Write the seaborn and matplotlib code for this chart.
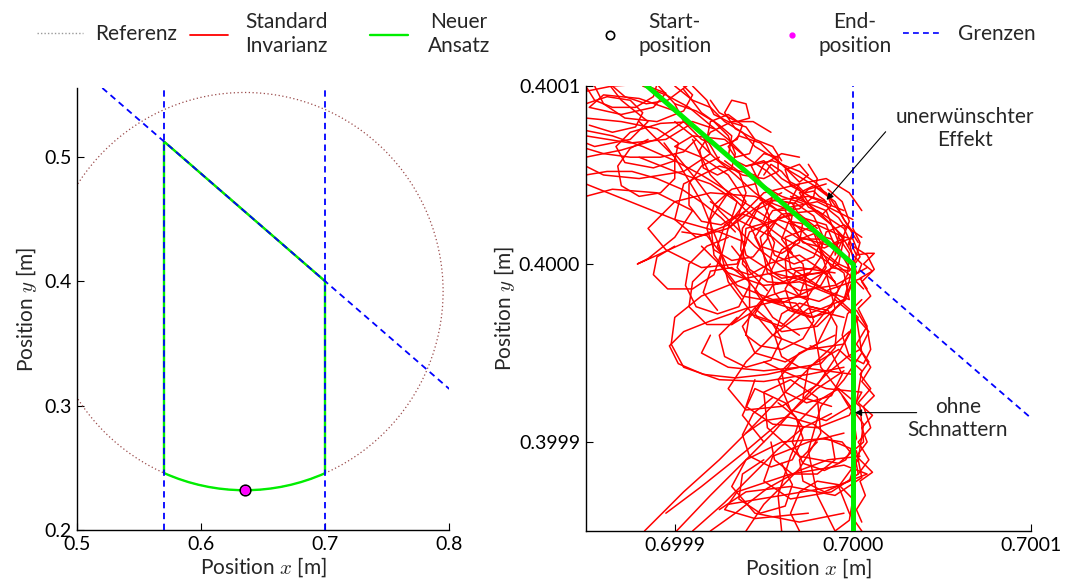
import numpy as np
import pandas as pd
import matplotlib
matplotlib.use("Agg")
import matplotlib.pyplot as plt
import seaborn as sns
from matplotlib.patches import Circle, Arc
from matplotlib.lines import Line2D

# ---------------- data ----------------
# reference trajectory (circle)
ref_center = (0.635, 0.392)
ref_radius = 0.16
# boundaries ("Grenzen")
bound_x = [0.57, 0.70]
bound_diag_p1 = (0.57, 0.5125)
bound_diag_p2 = (0.70, 0.40)
# "Neuer Ansatz" path: straight part, then arc on the reference circle
path_x = [0.57, 0.57, 0.70, 0.70]
path_y = [0.2458, 0.5125, 0.40, 0.2458]
path_arc_deg = (246.0, 294.0)
start_pos = (0.635, 0.232)
end_pos = (0.635, 0.232)

# "Standard Invarianz" chatter near corner (0.70, 0.40), offsets in micrometres
corner = (0.70, 0.40)
std_strokes_um = [
    [(-150,97),(-135,100),(-118,101),(-105,96),(-112,88),(-130,84),(-148,88),(-140,95),(-120,93),(-100,86),(-92,78),(-105,70),(-125,68),(-150,72)],
    [(-140,105),(-130,92),(-115,80),(-125,70),(-145,66),(-150,68)],
    [(-150,60),(-130,64),(-110,70),(-95,80),(-85,74),(-80,62),(-95,52),(-120,48),(-140,50),(-150,55)],
    [(-150,38),(-135,42),(-110,40),(-90,30),(-100,15),(-115,3),(-121,0),(-112,4),(-90,14),(-70,22),(-60,35),(-70,50),(-85,60),(-100,66),(-90,72),(-72,70),(-60,60)],
    [(-118,100),(-105,95),(-92,88),(-80,78),(-70,70),(-60,60),(-48,52),(-38,42),(-28,36),(-18,28),(-10,20),(-4,12),(0,5),(5,0),(3,-5),(-8,0),(-20,10),(-30,20),(-42,30),(-55,40),(-66,50),(-78,60),(-90,72),(-100,80)],
    [(-60,55),(-45,58),(-30,52),(-20,45),(-14,38),(-12,33),(-17,28),(-25,32),(-30,40),(-22,44),(-10,35),(-5,25),(0,18),(-3,10)],
    [(-100,100),(-90,92),(-80,88),(-72,80),(-62,74),(-55,66),(-45,60),(-35,52),(-25,46),(-15,40),(-8,30),(-2,20),(3,12)],
    [(-95,98),(-85,85),(-75,78),(-68,72),(-70,60),(-60,55),(-50,58),(-40,48),(-30,42),(-22,30),(-12,22),(-5,15),(-10,5)],
    [(-150,45),(-125,35),(-100,25),(-75,18),(-60,12),(-65,0),(-85,-2),(-105,8),(-115,20),(-100,35),(-80,40),(-55,38),(-35,30)],
    [(-120,60),(-100,52),(-80,45),(-65,35),(-70,20),(-88,15),(-100,25),(-95,45),(-75,55),(-55,50),(-45,38),(-50,25)],
    [(-90,70),(-80,50),(-60,30),(-40,15),(-20,5),(-5,-5),(-2,-20),(-15,-15),(-35,-5),(-55,10),(-75,30),(-90,50),(-100,62)],
    [(-120,80),(-100,60),(-85,35),(-75,10),(-70,-10),(-55,-30),(-40,-35),(-25,-20),(-28,0),(-45,15),(-65,25),(-80,35)],
    [(-5,30),(-25,38),(-50,35),(-70,20),(-75,0),(-62,-18),(-40,-22),(-18,-12),(-8,5),(-15,22),(-35,28),(-58,18),(-65,-2),(-50,-20),(-25,-28),(-5,-20),(2,-5),(-2,12)],
    [(0,25),(-20,35),(-45,30),(-55,15),(-45,-5),(-25,-10),(-8,0),(-5,15),(-20,22),(-38,15),(-35,-2),(-15,-15),(5,-8)],
    [(-30,45),(-50,40),(-65,25),(-60,5),(-40,-8),(-18,-5),(-8,12),(-15,30),(-35,38)],
    [(8,-2),(-10,-12),(-30,-15),(-48,-5),(-52,15),(-40,28),(-20,30),(-5,20),(2,5),(-5,-20),(-20,-35),(-40,-38),(-55,-25)],
    [(-70,40),(-80,25),(-78,5),(-65,-12),(-45,-20),(-25,-18),(-15,-2),(-22,18),(-42,25),(-60,20),(-62,0),(-48,-15)],
    [(5,30),(-2,40),(-15,48),(-30,45),(-38,30),(-30,15),(-12,10),(0,15)],
    [(-85,10),(-70,-5),(-50,-12),(-30,-10),(-10,-18),(3,-30),(-5,-45),(-25,-48),(-45,-40),(-55,-28),(-45,-12),(-25,-5)],
    [(-10,-5),(-30,-2),(-60,-8),(-85,-18),(-100,-30),(-102,-45),(-95,-58),(-75,-65),(-50,-66),(-25,-62),(-5,-58)],
    [(-30,-40),(-45,-30),(-55,-15),(-48,0),(-30,5),(-15,-5),(-10,-25),(-20,-45),(-38,-55),(-55,-50),(-62,-35),(-50,-20),(-32,-22),(-22,-35)],
    [(-5,-30),(-25,-25),(-45,-40),(-60,-55),(-70,-70),(-60,-82),(-40,-80),(-20,-68),(-8,-50),(0,-35)],
    [(0,10),(8,5),(12,-3),(5,-10),(10,-18),(3,-25),(8,-35),(2,-45),(9,-55),(4,-62),(10,-70),(3,-78),(11,-85),(5,-92),(8,-100),(2,-108),(11,-117),(4,-122),(7,-130),(2,-138),(5,-145)],
    [(-117,-150),(-95,-128),(-75,-110),(-55,-90),(-38,-72),(-22,-56),(-10,-45),(-2,-38)],
    [(-99,-150),(-80,-130),(-62,-112),(-45,-95),(-30,-78),(-15,-62),(-3,-52),(4,-48)],
    [(-105,-140),(-85,-125),(-60,-105),(-40,-88),(-20,-70),(-5,-60)],
    [(-90,-150),(-72,-134),(-56,-118),(-42,-104),(-28,-92),(-12,-84)],
    [(-80,-150),(-66,-140),(-48,-126),(-30,-116),(-14,-110),(4,-108)],
    [(-75,-138),(-60,-128),(-35,-125),(-10,-130),(5,-120),(2,-105),(-15,-98),(-40,-100),(-60,-110),(-68,-125),(-55,-140),(-30,-145),(-5,-140)],
    [(-70,-135),(-40,-130),(-10,-125),(8,-118),(-5,-113),(-35,-118),(-65,-128),(-72,-138),(-55,-143),(-25,-140)],
    [(-60,-150),(-50,-135),(-30,-115),(-18,-95),(-20,-75),(-35,-65),(-50,-72),(-48,-92),(-30,-108),(-8,-112),(6,-100),(4,-80),(-8,-70)],
    [(-10,-150),(-20,-130),(-25,-105),(-18,-80),(-5,-65),(5,-50),(2,-30),(-10,-20),(-22,-35),(-18,-58),(-5,-75),(6,-90),(3,-110),(-8,-125),(-2,-140),(5,-150)],
    [(-40,-150),(-42,-130),(-35,-108),(-28,-92),(-38,-78),(-55,-70),(-62,-85),(-50,-100)],
    [(-10,-40),(-30,-50),(-42,-65),(-35,-82),(-15,-88),(2,-78),(5,-60),(-8,-48),(-25,-58),(-28,-75),(-12,-80)],
    [(-50,-55),(-35,-62),(-15,-70),(5,-72),(-2,-85),(-20,-92),(-45,-90),(-60,-80),(-55,-65)],
    [(-5,-95),(-25,-100),(-45,-108),(-50,-122),(-35,-132),(-12,-128),(3,-118),(0,-102)],
    [(-150,90),(-138,94),(-125,92),(-118,85),(-122,77),(-135,74),(-148,78)],
    [(-150,82),(-130,80),(-110,76),(-98,68),(-100,58),(-112,54),(-128,57),(-133,66),(-125,74),(-108,79),(-90,80),(-78,76)],
    [(-145,100),(-140,90),(-128,82),(-110,80),(-95,86),(-90,95),(-96,101)],
    [(-150,65),(-140,62),(-125,60),(-108,60),(-95,63),(-88,70)],
    [(-110,101),(-100,90),(-95,80),(-85,70),(-75,66),(-65,70),(-62,78),(-70,84),(-80,80),(-82,70),(-75,58),(-62,50),(-50,48),(-42,52),(-42,60),(-50,62),(-57,55),(-52,45),(-40,38),(-28,34)],
    [(-90,100),(-82,92),(-78,84),(-70,80),(-60,77),(-55,70),(-58,62),(-66,60),(-70,66),(-64,72),(-52,68),(-44,60),(-36,52),(-30,46),(-25,50),(-30,56),(-38,53),(-35,44),(-24,38),(-15,35)],
    [(-80,92),(-75,85),(-65,80),(-58,82),(-60,90),(-68,92),(-72,85),(-66,76),(-55,70),(-45,66),(-40,58)],
    [(-20,20),(-30,28),(-42,26),(-48,16),(-44,5),(-33,0),(-22,4),(-18,12),(-24,22),(-36,24),(-40,14),(-34,6)],
    [(-60,30),(-72,22),(-76,10),(-70,-2),(-58,-6),(-47,0),(-44,12),(-50,24),(-62,28),(-70,20)],
    [(-10,-10),(-20,-2),(-32,-4),(-38,-14),(-34,-26),(-22,-30),(-12,-24),(-8,-14),(-14,-4),(-26,-6),(-30,-18)],
    [(-80,0),(-90,-10),(-92,-24),(-82,-34),(-68,-34),(-58,-24),(-58,-10),(-68,-2),(-80,-4),(-84,-16),(-76,-26)],
    [(5,15),(-5,22),(-15,18),(-18,8),(-12,-2),(-2,-4),(4,4),(0,14),(-8,16),(-10,6)],
    [(-40,40),(-52,34),(-58,22),(-52,10),(-40,6),(-30,12),(-28,24),(-34,34),(-46,36)],
    [(-100,10),(-110,4),(-112,-6),(-104,-14),(-90,-14),(-78,-6),(-74,6),(-82,16),(-96,18)],
    [(-65,-30),(-75,-40),(-72,-52),(-60,-58),(-46,-54),(-40,-42),(-46,-32),(-58,-28),(-68,-34)],
    [(-30,-50),(-40,-60),(-38,-72),(-26,-78),(-12,-74),(-6,-62),(-12,-50),(-24,-46)],
    [(-20,-100),(-30,-110),(-28,-122),(-16,-128),(-2,-122),(2,-110),(-6,-100),(-18,-98)],
    [(-50,-110),(-62,-118),(-64,-132),(-52,-140),(-38,-136),(-34,-124),(-40,-112)],
    [(-80,-40),(-85,-50),(-70,-58),(-50,-60),(-30,-58),(-15,-60),(0,-62)],
    [(-45,35),(-55,30),(-62,20),(-63,8),(-58,-3),(-48,-10),(-36,-11),(-25,-6),(-18,4),(-17,16),(-22,27),(-32,34),(-44,36)],
    [(-5,5),(-12,14),(-22,17),(-32,13),(-38,3),(-37,-9),(-30,-18),(-19,-21),(-9,-16),(-3,-6),(-2,6),(-8,15)],
    [(-20,-25),(-30,-22),(-40,-28),(-44,-40),(-40,-52),(-30,-58),(-18,-56),(-10,-47),(-9,-35),(-14,-26),(-24,-24)],
    [(0,-10),(-4,-20),(-12,-27),(-24,-30),(-36,-26),(-44,-16),(-46,-4),(-40,8),(-30,14),(-18,14),(-8,8),(-2,-2)],
    [(-55,45),(-68,42),(-78,33),(-82,20),(-78,8),(-68,2),(-56,4),(-48,14),(-47,27),(-52,38)],
    [(-30,60),(-40,62),(-50,56),(-55,46),(-52,36),(-42,30),(-30,31),(-22,38),(-20,48),(-25,56)],
    [(-15,45),(-25,42),(-33,34),(-35,22),(-28,12),(-16,9),(-6,14),(-2,24),(-6,35),(-14,42)],
    [(5,-20),(-3,-28),(-6,-40),(-2,-52),(6,-56),(10,-48),(8,-36),(2,-26)],
    [(-60,-40),(-52,-46),(-40,-48),(-28,-42),(-22,-32),(-26,-20),(-38,-15),(-50,-19),(-58,-28),(-60,-40)],
    [(-70,15),(-82,10),(-92,0),(-94,-12),(-88,-24),(-76,-28),(-64,-24),(-58,-12),(-60,0),(-68,10)],
    [(-8,-70),(-18,-76),(-30,-88),(-34,-100),(-28,-112),(-16,-116),(-4,-110),(2,-98),(0,-84),(-6,-74)],
    [(-45,-75),(-56,-84),(-62,-96),(-58,-108),(-46,-114),(-34,-110),(-28,-98),(-32,-86),(-42,-78)],
    [(-75,60),(-85,55),(-92,45),(-92,33),(-85,24),(-74,22),(-64,28),(-60,40),(-64,52),(-72,58)],
    [(-115,70),(-125,65),(-132,55),(-130,44),(-120,38),(-108,40),(-100,48),(-100,60),(-106,68)],
    [(-150,100),(-145,92),(-135,88),(-122,88),(-112,94),(-110,101)],
    [(-135,100),(-128,94),(-116,90),(-104,92),(-96,98),(-92,101)],
    [(-150,75),(-135,72),(-118,66),(-100,58),(-85,50),(-72,42),(-60,34),(-48,26),(-36,18),(-24,10),(-12,2),(-2,-6),(6,-14)],
    [(-150,50),(-138,52),(-124,52),(-110,48),(-96,42),(-84,34),(-74,26),(-66,18)],
    [(-100,90),(-88,86),(-78,80),(-70,72),(-66,62),(-68,54),(-76,50),(-84,54),(-86,64),(-80,74),(-68,80),(-56,80),(-46,74)],
    [(2,-30),(9,-38),(4,-48),(10,-58),(5,-66),(12,-74),(6,-80),(10,-92),(3,-100),(9,-110),(3,-118)],
    [(-30,-150),(-35,-140),(-30,-128),(-20,-122),(-8,-124),(0,-132),(-2,-144),(-10,-150)],
    [(-60,-95),(-50,-88),(-36,-86),(-22,-90),(-12,-98),(-10,-110),(-20,-118),(-34,-118),(-44,-110),(-46,-100)],
    [(-40,-20),(-60,-25),(-80,-32),(-95,-38),(-103,-46),(-98,-56),(-84,-62),(-66,-64),(-48,-62),(-30,-58)],
    [(-50,50),(-46,56),(-40,52),(-35,46),(-31,44),(-27,40),(-22,41),(-19,38),(-16,36),(-13,30),(-8,26),(-4,20)],
    [(0,20),(4,12),(2,5),(8,6),(12,6),(6,0),(11,-4),(4,-8),(8,-14)],
]

# legend labels
legend_labels = ["Referenz", "Standard\nInvarianz", "Neuer\nAnsatz",
                 "Start-\nposition", "End-\nposition", "Grenzen"]

# ---------------- style ----------------
sns.set_theme(style="ticks")
plt.rcParams["font.family"] = ["Lato", "DejaVu Sans"]
plt.rcParams["mathtext.fontset"] = "cm"
FS = 15
FS_TICK = 14

RED = "#ff0000"
GREEN = "#00ee00"
BLUE = "#0000ff"
REFC = "#9a4a4a"
DASH = (0, (3.5, 2.5))

W, H = 1065, 582
fig = plt.figure(figsize=(W / 100, H / 100), dpi=100)
ax1 = fig.add_axes([77.3 / W, 1 - 530 / H, 372 / W, 442 / H])
ax2 = fig.add_axes([585.7 / W, 1 - 531 / H, 445.3 / W, 445 / H])

LIM1 = ((0.5, 0.8), (0.2, 0.5556))
LIM2 = ((0.69985, 0.7001), (0.39985, 0.4001))

rows = []
for i, s in enumerate(std_strokes_um):
    for (dx, dy) in s:
        rows.append((i, corner[0] + dx * 1e-6, corner[1] + dy * 1e-6))
std_df = pd.DataFrame(rows, columns=["stroke", "x", "y"])


def clip_path(xs, ys, lims, margin=0.05):
    """Clip a polyline to a (slightly enlarged) window, Liang-Barsky."""
    (x0, x1), (y0, y1) = lims
    mx, my = (x1 - x0) * margin, (y1 - y0) * margin
    x0, x1, y0, y1 = x0 - mx, x1 + mx, y0 - my, y1 + my
    out = []
    seg = 0
    for k in range(len(xs) - 1):
        ax_, ay_, bx_, by_ = xs[k], ys[k], xs[k + 1], ys[k + 1]
        dx, dy = bx_ - ax_, by_ - ay_
        t0, t1 = 0.0, 1.0
        ok = True
        for p, q in ((-dx, ax_ - x0), (dx, x1 - ax_), (-dy, ay_ - y0), (dy, y1 - ay_)):
            if p == 0:
                if q < 0:
                    ok = False
                    break
            else:
                r = q / p
                if p < 0:
                    t0 = max(t0, r)
                else:
                    t1 = min(t1, r)
        if ok and t0 <= t1:
            out.append((seg, ax_ + t0 * dx, ay_ + t0 * dy))
            out.append((seg, ax_ + t1 * dx, ay_ + t1 * dy))
            seg += 1
    return pd.DataFrame(out, columns=["seg", "x", "y"])


def draw(ax, lims, green_lw, blue_on_top, with_circle):
    path_df = clip_path(path_x, path_y, lims)
    if with_circle:
        ax.add_patch(Circle(ref_center, ref_radius, fill=False, ec=REFC, lw=0.9,
                            ls=(0, (1, 2)), zorder=1))
    sns.lineplot(data=path_df, x="x", y="y", units="seg", sort=False,
                 estimator=None, color=RED, lw=1.2, ax=ax, zorder=2)
    sns.lineplot(data=std_df, x="x", y="y", units="stroke", sort=False,
                 estimator=None, color=RED, lw=1.1, ax=ax, zorder=2,
                 legend=False)
    gz = 3 if blue_on_top else 6
    bz = 4
    sns.lineplot(data=path_df, x="x", y="y", units="seg", sort=False,
                 estimator=None, color=GREEN, lw=green_lw, ax=ax, zorder=gz)
    if with_circle:
        ax.add_patch(Arc(ref_center, 2 * ref_radius, 2 * ref_radius,
                         theta1=path_arc_deg[0], theta2=path_arc_deg[1],
                         color=GREEN, lw=green_lw, zorder=gz))
    for bx in bound_x:
        ax.axvline(bx, color=BLUE, ls=DASH, lw=1.3, zorder=bz)
    ax.axline(bound_diag_p1, bound_diag_p2, color=BLUE, ls=DASH, lw=1.3,
              zorder=bz)


draw(ax1, LIM1, 1.7, True, True)
ax1.plot(*start_pos, marker="o", ms=7.5, mfc="none", mec="black", mew=1.3,
         ls="none", zorder=6)
ax1.plot(*end_pos, marker="o", ms=5.5, mfc="magenta", mec="magenta",
         ls="none", zorder=7)

# the reference circle and its arc lie far outside the zoomed window
draw(ax2, LIM2, 3.6, False, False)

ax1.set_xlim(*LIM1[0])
ax1.set_ylim(*LIM1[1])
ax1.set_xticks([0.5, 0.6, 0.7, 0.8], ["0.5", "0.6", "0.7", "0.8"])
ax1.set_yticks([0.2, 0.3, 0.4, 0.5], ["0.2", "0.3", "0.4", "0.5"])

ax2.set_xlim(*LIM2[0])
ax2.set_ylim(*LIM2[1])
ax2.set_xticks([0.6999, 0.7000, 0.7001], ["0.6999", "0.7000", "0.7001"])
ax2.set_yticks([0.3999, 0.4000, 0.4001], ["0.3999", "0.4000", "0.4001"])

for ax in (ax1, ax2):
    for sp in ("top", "right"):
        ax.spines[sp].set_visible(False)
    for sp in ("left", "bottom"):
        ax.spines[sp].set_color("black")
        ax.spines[sp].set_linewidth(1.0)
    ax.tick_params(direction="in", length=5, width=0.8, labelsize=FS_TICK,
                   pad=4, colors="black")
    ax.set_xlabel(r"Position $x$ [m]", fontsize=FS, labelpad=2)
    ax.grid(False)
ax1.set_ylabel(r"Position $y$ [m]", fontsize=FS, labelpad=4)
ax2.set_ylabel(r"Position $y$ [m]", fontsize=FS, labelpad=1)

# annotations in right plot
arrow_kw = dict(arrowstyle="-|>", color="black", lw=0.8, mutation_scale=10,
                shrinkA=0, shrinkB=0)
ax2.annotate("", xy=(corner[0] - 14.8e-6, corner[1] + 36e-6),
             xytext=(corner[0] + 18.4e-6, corner[1] + 74.3e-6),
             arrowprops=arrow_kw, zorder=8)
ax2.text(corner[0] + 63e-6, corner[1] + 76e-6, "unerwünschter\nEffekt",
         fontsize=FS, ha="center", va="center", multialignment="center")
ax2.annotate("", xy=(corner[0] + 1.1e-6, corner[1] - 83.5e-6),
             xytext=(corner[0] + 35.8e-6, corner[1] - 83.5e-6),
             arrowprops=arrow_kw, zorder=8)
ax2.text(corner[0] + 59e-6, corner[1] - 87e-6, "ohne\nSchnattern",
         fontsize=FS, ha="center", va="center", multialignment="center")

# legend: one entry per slot, placed like the reference
handles = [
    Line2D([], [], color="#999999", ls=(0, (1, 1.5)), lw=1.0),
    Line2D([], [], color=RED, lw=1.3),
    Line2D([], [], color=GREEN, lw=1.7),
    Line2D([], [], ls="none", marker="o", mfc="none", mec="black", ms=6, mew=1.2),
    Line2D([], [], ls="none", marker="o", mfc="magenta", mec="magenta", ms=3.5),
    Line2D([], [], color=BLUE, ls=DASH, lw=1.2),
]
# (handle start px, handle length px, text start px)
slots = [(37, 46, 95), (190, 38, 245), (370, 38, 428), (594, 32, 638),
         (776, 32, 818), (903, 39, 958)]
em = FS * 100 / 72
for h, lab, (hs, hl, ts) in zip(handles, legend_labels, slots):
    lg = fig.legend([h], [lab], loc="center left",
                    bbox_to_anchor=(hs / W, 1 - 34 / H), frameon=False,
                    fontsize=FS, handlelength=hl / em,
                    handletextpad=(ts - hs - hl) / em, borderpad=0,
                    borderaxespad=0)
    for t in lg.get_texts():
        t.set_multialignment("center")

fig.savefig("out.png", dpi=100)
